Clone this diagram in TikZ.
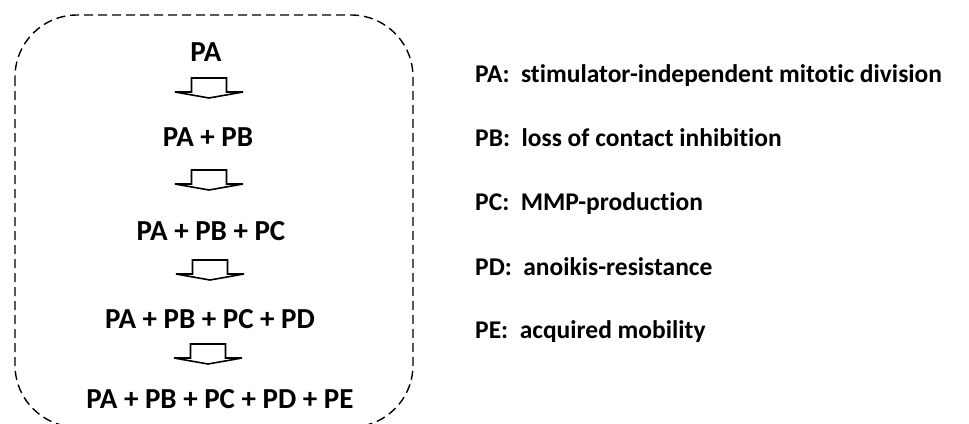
\documentclass[tikz,border=0pt]{standalone}
\usepackage{fontspec}
\setmainfont{Carlito}[Ligatures={NoCommon,TeX}]
\begin{document}
\begin{tikzpicture}[x=1pt,y=-1pt,
  chain/.style={anchor=base,inner sep=0pt,font=\fontsize{29}{33}\selectfont\bfseries},
  legend/.style={anchor=base west,inner sep=0pt,font=\fontsize{25.5}{29}\selectfont\bfseries},
  frame/.style={draw=black,line width=1.4pt,dash pattern=on 9pt off 5pt,rounded corners=62pt},
  blockarrow/.style={draw=black,line width=1.6pt,line join=miter}]
\useasboundingbox (0,0) rectangle (969,423);
\begin{scope}
\clip (0,0) rectangle (969,423);
\draw[frame] (15,15) rectangle (413,427);
\end{scope}
% chain nodes
\node[chain] (s1) at (206,61.5) {PA};
\node[chain] (s2) at (208,146.5) {PA + PB};
\node[chain] (s3) at (211,240.5) {PA + PB + PC};
\node[chain] (s4) at (210,328.5) {PA + PB + PC + PD};
\node[chain] (s5) at (220,408.5) {PA + PB + PC + PD + PE};
% block arrows
\foreach \cx/\ty/\nm in {209/78/a1, 209/170/a2, 210/260/a3, 208/344/a4}{
  \coordinate (\nm) at (\cx,\ty);
  \begin{scope}[shift={(\nm)}]
  \draw[blockarrow] (-34,14) -- (-17.5,14) -- (-17.5,0) -- (17.5,0) -- (17.5,14)
     -- (34,14) -- (0,20) -- cycle;
  \end{scope}
}
% legend
\node[legend] (l1) at (475,82.7) {PA:\ \ stimulator-independent mitotic division};
\node[legend] (l2) at (475,146.7) {PB:\ \ loss of contact inhibition};
\node[legend] (l3) at (475,210.7) {PC:\ \ MMP-production};
\node[legend] (l4) at (475,275) {PD:\ \ anoikis-resistance};
\node[legend] (l5) at (475,338.3) {PE:\ \ acquired mobility};
\end{tikzpicture}
\end{document}
